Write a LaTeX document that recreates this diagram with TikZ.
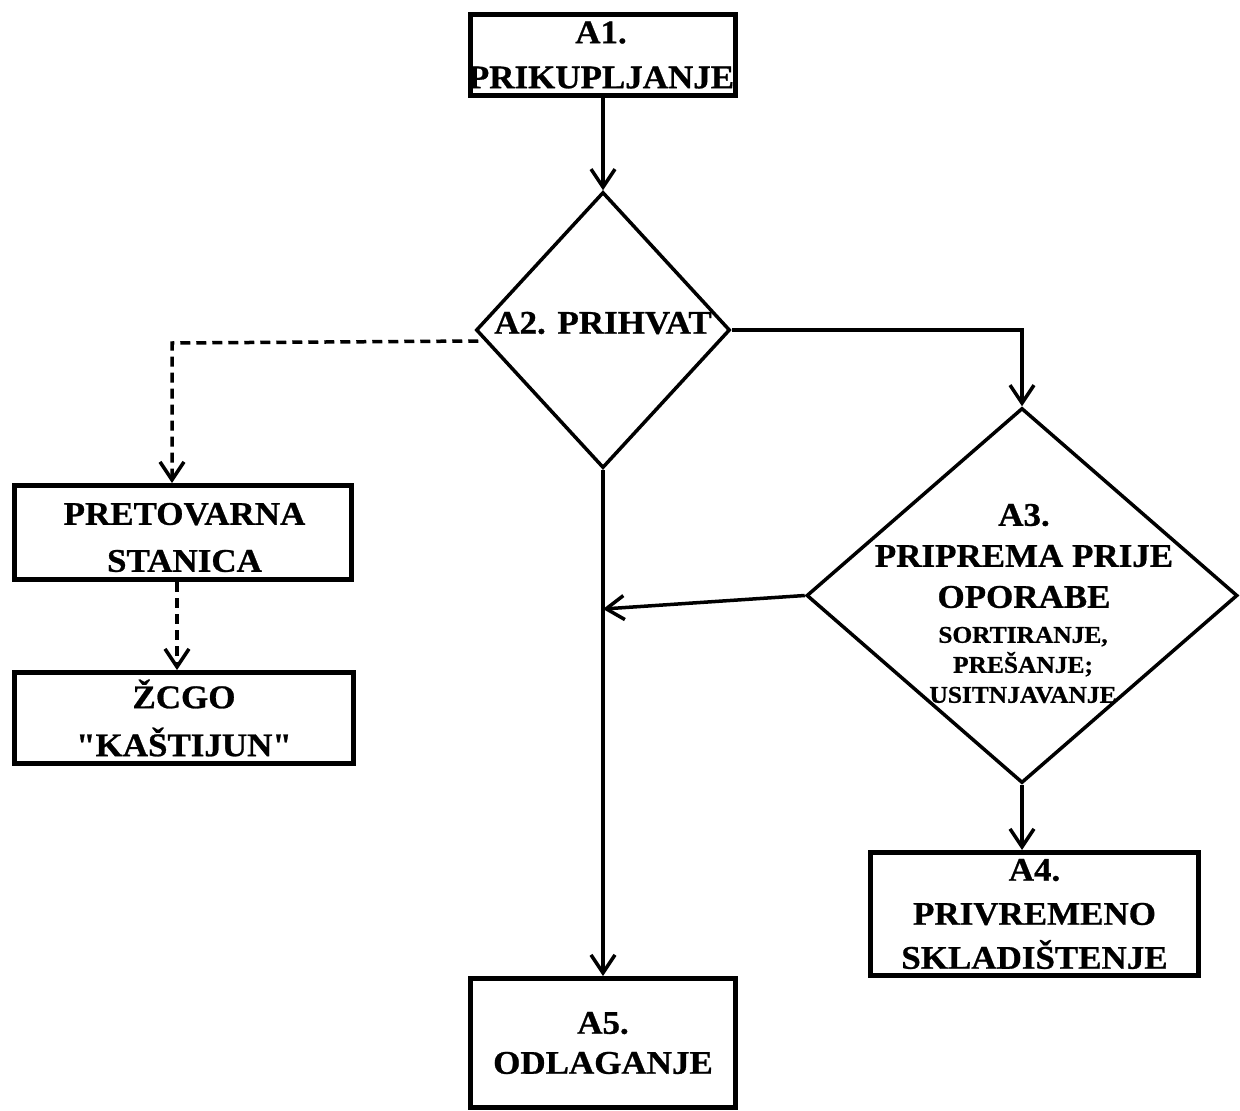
\documentclass[tikz,border=0pt]{standalone}
\usepackage{fontspec}
\setmainfont{Liberation Serif}[Ligatures=TeXOff,FakeStretch=1.06,FakeBold=0.8]
\usetikzlibrary{arrows.meta,shapes.geometric,calc}
\begin{document}
\begin{tikzpicture}[x=1pt,y=-1pt,
  box/.style={draw,line width=5pt,rectangle,inner sep=0pt,align=center},
  dia/.style={draw,line width=3.5pt,diamond,inner sep=0pt},
  fs/.style={font=\bfseries\fontsize{33}{#1}\selectfont},
  lbl/.style={align=center,inner sep=0pt},
  conn/.style={line width=3.5pt,-{Straight Barb[length=18pt,width=24pt]}},
  dconn/.style={conn,dash pattern=on 10pt off 6pt},
]
\useasboundingbox (0,0) rectangle (1240,1111);

% boxes
\node[box,minimum width=265pt,minimum height=81pt] (A1) at (603,55) {};
\node[lbl,fs=45] (A1t) at (601,55) {A1.\\PRIKUPLJANJE};
\node[box,fs=40,minimum width=265pt,minimum height=129pt] (A5) at (603,1043) {A5.\\ODLAGANJE};
\node[box,fs=44,minimum width=328pt,minimum height=123pt] (A4) at (1034.5,914) {A4.\\PRIVREMENO\\SKLADIŠTENJE};
\node[box,minimum width=337pt,minimum height=94pt] (P) at (183,532.5) {};
\node[lbl,fs=47] (Pt) at (184.5,537.5) {PRETOVARNA\\STANICA};
\node[box,fs=48,minimum width=339pt,minimum height=91pt] (Z) at (184,718) {ŽCGO\\"KAŠTIJUN"};

% diamonds
\node[dia,minimum width=254pt,minimum height=276pt] (A2) at (603,330) {};
\node[lbl,fs=40] (A2t) at (603,323) {A2. PRIHVAT};
\node[dia,minimum width=431pt,minimum height=375pt] (A3) at (1022,595.5) {};
\node[lbl,fs=41] (A3t) at (1024,556) {A3.\\PRIPREMA PRIJE\\OPORABE};
\node[lbl,font=\bfseries\fontsize{24}{30}\selectfont] (A3s) at (1023,665) {SORTIRANJE,\\PREŠANJE;\\USITNJAVANJE};

% connectors
\coordinate (J) at (603,609);
\coordinate (DS) at ($(A2.west)+(4,11)$);
\coordinate (DC) at (172,343);

\draw[conn] (A1.south) -- (A2.north);
\draw[conn] (A2.east) -| (A3.north);
\draw[conn] (A2.south) -- (A5.north);
\draw[conn] (A3.west) -- (J);
\draw[conn] (A3.south) -- (A3.south |- A4.north);
\draw[dconn] (DS) -- (DC) -- (DC |- P.north);
\draw[dconn] ([xshift=-6pt]P.south) -- ([xshift=-6pt]P.south |- Z.north);
\end{tikzpicture}
\end{document}
